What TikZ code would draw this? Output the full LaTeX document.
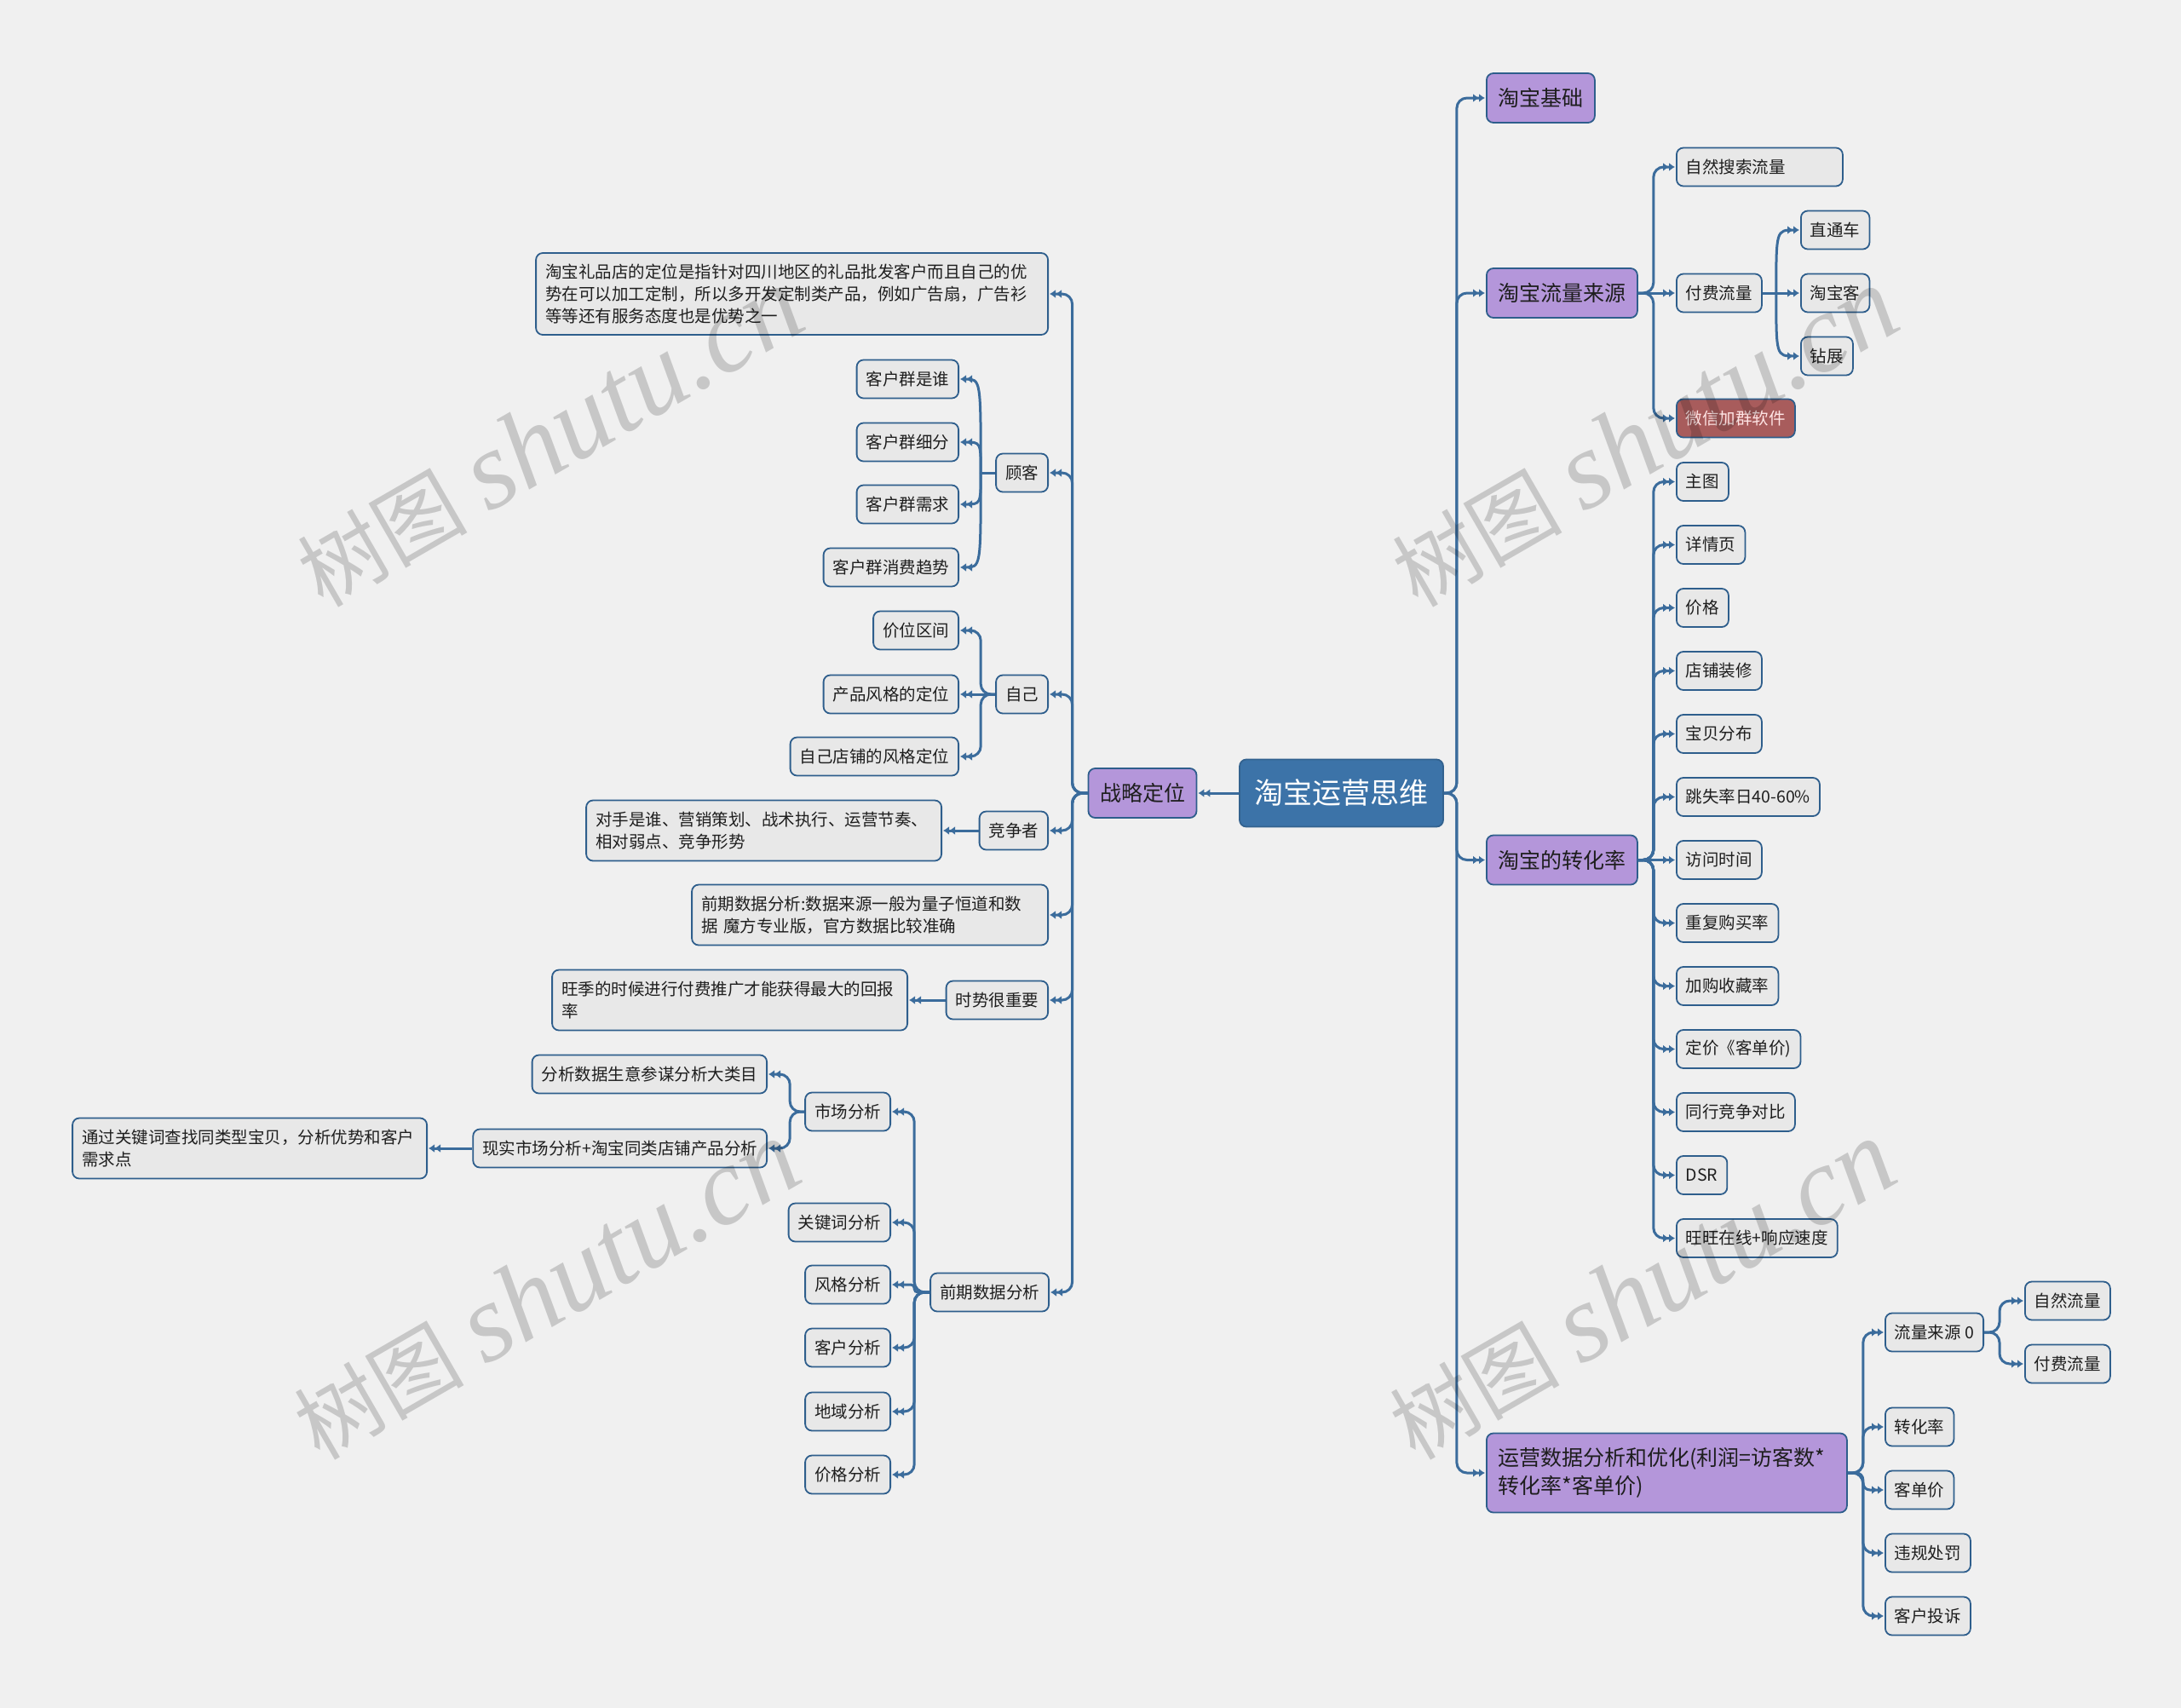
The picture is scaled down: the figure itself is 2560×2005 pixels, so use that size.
\documentclass[tikz,border=0pt]{standalone}
\usepackage{fontspec}
\setmainfont{Noto Sans CJK SC}
\newfontfamily\cjk{Noto Sans CJK SC}
\newfontfamily\wmserif{Liberation Serif}
\usetikzlibrary{arrows.meta,calc}
\definecolor{bgc}{HTML}{F0F0F0}
\definecolor{linec}{HTML}{3B6C9C}
\definecolor{bordc}{HTML}{2E5E8C}
\definecolor{leafc}{HTML}{E8E8E8}
\definecolor{purpc}{HTML}{B496DA}
\definecolor{rootc}{HTML}{3C73A8}
\definecolor{redc}{HTML}{A85C5C}
\definecolor{txtc}{HTML}{1E1E1E}
\tikzset{
  nbox/.style={draw=bordc, line width=1.8pt, rounded corners=8pt, text=txtc, inner ysep=0pt},
  leaf/.style={nbox, fill=leafc, inner xsep=11pt, minimum height=45pt, font=\fontsize{19.5}{26}\selectfont},
  mbox/.style={leaf, align=left, text width=#1},
  lvl/.style={nbox, fill=purpc, inner xsep=13.5pt, minimum height=58pt, font=\fontsize{25}{33}\selectfont},
  rootbox/.style={nbox, fill=rootc, draw=rootc!85!black, text=white, inner xsep=17.5pt, minimum height=79pt, font=\fontsize{34}{40}\selectfont},
  conn/.style={draw=linec, line width=3pt, rounded corners=12pt},
  dtip/.style={-{Latex[length=7pt,width=10pt]Latex[length=7pt,width=10pt]}, shorten >=1pt},
  wm/.style={rotate=30, text=black, opacity=0.17, inner sep=0pt}
}
\begin{document}
\begin{tikzpicture}[x=1pt,y=-1pt]
\useasboundingbox (0,0) rectangle (2560,2005);
\fill[bgc] (0,0) rectangle (2560,2005);

% ---------- root ----------
\node[rootbox] (root) at (1574.5,931) {淘宝运营思维};

% ---------- right level 1 ----------
\node[lvl, anchor=west] (jc) at (1744,115) {淘宝基础};
\node[lvl, anchor=west] (ly) at (1744,344) {淘宝流量来源};
\node[lvl, anchor=west] (zh) at (1744,1009.5) {淘宝的转化率};
\node[lvl, anchor=west, align=left, text width=396pt, minimum height=93pt] (yy) at (1744,1729) {运营数据分析和优化(利润=访客数*\\转化率*客单价)};

% ---------- 淘宝流量来源 ----------
\node[leaf, anchor=west, text width=173pt, align=left] (zr) at (1967,196) {自然搜索流量};
\node[leaf, anchor=west] (ff) at (1967,344) {付费流量};
\node[leaf, anchor=west, fill=redc, text=white!90!red] (wx) at (1967,491) {微信加群软件};
\node[leaf, anchor=west] (ztc) at (2113,270) {直通车};
\node[leaf, anchor=west] (tbk) at (2113,344) {淘宝客};
\node[leaf, anchor=west] (zz) at (2113,418) {钻展};

% ---------- 淘宝的转化率 ----------
\node[leaf, anchor=west] (zt) at (1967,565.5) {主图};
\node[leaf, anchor=west] (xq) at (1967,639.5) {详情页};
\node[leaf, anchor=west] (jg) at (1967,713.5) {价格};
\node[leaf, anchor=west] (dp) at (1967,787.5) {店铺装修};
\node[leaf, anchor=west] (bb) at (1967,861.5) {宝贝分布};
\node[leaf, anchor=west] (tsl) at (1967,935.5) {跳失率日40-60\%};
\node[leaf, anchor=west] (fw) at (1967,1009.5) {访问时间};
\node[leaf, anchor=west] (chg) at (1967,1083.5) {重复购买率};
\node[leaf, anchor=west] (jgsc) at (1967,1157.5) {加购收藏率};
\node[leaf, anchor=west] (dj) at (1967,1231.5) {定价《客单价)};
\node[leaf, anchor=west] (tong) at (1967,1305.5) {同行竞争对比};
\node[leaf, anchor=west] (dsr) at (1967,1379.5) {DSR};
\node[leaf, anchor=west] (ww) at (1967,1453.5) {旺旺在线+响应速度};

% ---------- 运营数据分析 ----------
\node[leaf, anchor=west] (lly) at (2212,1564) {流量来源 0};
\node[leaf, anchor=west] (zrll) at (2376,1527) {自然流量};
\node[leaf, anchor=west] (ffll) at (2376,1601) {付费流量};
\node[leaf, anchor=west] (zhl) at (2212,1675) {转化率};
\node[leaf, anchor=west] (kdj) at (2212,1749) {客单价};
\node[leaf, anchor=west] (wg) at (2212,1823) {违规处罚};
\node[leaf, anchor=west] (ts) at (2212,1897) {客户投诉};

% ---------- left ----------
\node[lvl] (zl) at (1341,931) {战略定位};
\node[mbox=579pt, anchor=east, minimum height=96pt] (gift) at (1231,345) {淘宝礼品店的定位是指针对四川地区的礼品批发客户而且自己的优\\势在可以加工定制，所以多开发定制类产品，例如广告扇，广告衫\\等等还有服务态度也是优势之一};
\node[leaf, anchor=east] (gk) at (1231,555) {顾客};
\node[leaf, anchor=east] (zj) at (1231,815) {自己};
\node[leaf, anchor=east] (jzz) at (1231,975) {竞争者};
\node[mbox=396pt, anchor=east, minimum height=71pt] (qqsm) at (1231,1074) {前期数据分析:数据来源一般为量子恒道和数\\据 魔方专业版，官方数据比较准确};
\node[leaf, anchor=east] (ss) at (1231,1174) {时势很重要};
\node[leaf, anchor=east] (qq) at (1232,1517) {前期数据分析};

\node[leaf, anchor=east] (kq1) at (1126,445) {客户群是谁};
\node[leaf, anchor=east] (kq2) at (1126,519) {客户群细分};
\node[leaf, anchor=east] (kq3) at (1126,592) {客户群需求};
\node[leaf, anchor=east] (kq4) at (1126,666) {客户群消费趋势};

\node[leaf, anchor=east] (jw) at (1126,740) {价位区间};
\node[leaf, anchor=east] (cp) at (1126,815) {产品风格的定位};
\node[leaf, anchor=east] (zd) at (1126,888) {自己店铺的风格定位};

\node[mbox=395pt, anchor=east, minimum height=71pt] (ds) at (1106,975) {对手是谁、营销策划、战术执行、运营节奏、\\相对弱点、竞争形势};
\node[mbox=395pt, anchor=east, minimum height=71pt] (wj) at (1066,1174) {旺季的时候进行付费推广才能获得最大的回报\\率};

\node[leaf, anchor=east] (sc) at (1046,1305) {市场分析};
\node[leaf, anchor=east] (gjc) at (1046,1435) {关键词分析};
\node[leaf, anchor=east] (fg) at (1046,1508) {风格分析};
\node[leaf, anchor=east] (kh) at (1046,1582) {客户分析};
\node[leaf, anchor=east] (dy) at (1046,1657) {地域分析};
\node[leaf, anchor=east] (jgfx) at (1046,1731) {价格分析};

\node[leaf, anchor=east] (fx) at (901,1261) {分析数据生意参谋分析大类目};
\node[leaf, anchor=east] (xs) at (901,1348) {现实市场分析+淘宝同类店铺产品分析};
\node[mbox=394pt, anchor=east, minimum height=71pt] (tg) at (502,1348) {通过关键词查找同类型宝贝，分析优势和客户\\需求点};

% ---------- connectors right ----------
\foreach \c in {jc,ly,zh,yy}
  \draw[conn,dtip] (root.east) -- ++(15,0) |- (\c.west);

\draw[conn,dtip] (ly.east) -- ++(18,0) |- (zr.west);
\draw[conn,dtip] (ly.east) -- (ff.west);
\draw[conn,dtip] (ly.east) -- ++(18,0) |- (wx.west);

\coordinate (ffj) at ($(ff.east)+(16,0)$);
\draw[conn] (ff.east) -- (ffj);
\draw[conn,dtip] (ffj) .. controls (ffj |- ztc.west) .. (ztc.west);
\draw[conn,dtip] (ff.east) -- (tbk.west);
\draw[conn,dtip] (ffj) .. controls (ffj |- zz.west) .. (zz.west);

\foreach \c in {zt,xq,jg,dp,bb,tsl,chg,jgsc,dj,tong,dsr,ww}
  \draw[conn,dtip] (zh.east) -- ++(18,0) |- (\c.west);
\draw[conn,dtip] (zh.east) -- (fw.west);

\foreach \c in {lly,zhl,wg,ts}
  \draw[conn,dtip] (yy.east) -- ++(18,0) |- (\c.west);
\draw[conn,dtip,rounded corners=8pt] (yy.east) -- ++(18,0) |- (kdj.west);

\draw[conn,dtip] (lly.east) -- ++(18,0) |- (zrll.west);
\draw[conn,dtip] (lly.east) -- ++(18,0) |- (ffll.west);

% ---------- connectors left ----------
\draw[conn,dtip] (root.west) -- (zl.east);
\foreach \c in {gift,gk,zj,jzz,qqsm,ss,qq}
  \draw[conn,dtip] (zl.west) -- ++(-18,0) |- (\c.east);

\coordinate (gkj) at ($(gk.west)+(-17,0)$);
\draw[conn] (gk.west) -- (gkj);
\foreach \c in {kq1,kq2,kq3,kq4}
  \draw[conn,dtip] (gkj) .. controls (gkj |- \c.east) .. (\c.east);

\draw[conn,dtip] (zj.west) -- ++(-17,0) |- (jw.east);
\draw[conn,dtip] (zj.west) -- (cp.east);
\draw[conn,dtip] (zj.west) -- ++(-17,0) |- (zd.east);

\draw[conn,dtip] (jzz.west) -- (ds.east);
\draw[conn,dtip] (ss.west) -- (wj.east);

\foreach \c in {sc,gjc,kh,dy,jgfx}
  \draw[conn,dtip] (qq.west) -- ++(-18,0) |- (\c.east);
\draw[conn,dtip,rounded corners=4pt] (qq.west) -- ++(-18,0) |- (fg.east);

\draw[conn,dtip] (sc.west) -- ++(-17,0) |- (fx.east);
\draw[conn,dtip] (sc.west) -- ++(-17,0) |- (xs.east);
\draw[conn,dtip] (xs.west) -- (tg.east);

% ---------- watermarks ----------
\foreach \p in {(645,514),(1930,514),(641,1515),(1927,1515)}
  \node[wm] at \p {{\cjk\fontsize{100}{100}\selectfont 树图}\hspace{24pt}{\wmserif\itshape\fontsize{130}{130}\selectfont shutu.cn}};
\end{tikzpicture}
\end{document}
